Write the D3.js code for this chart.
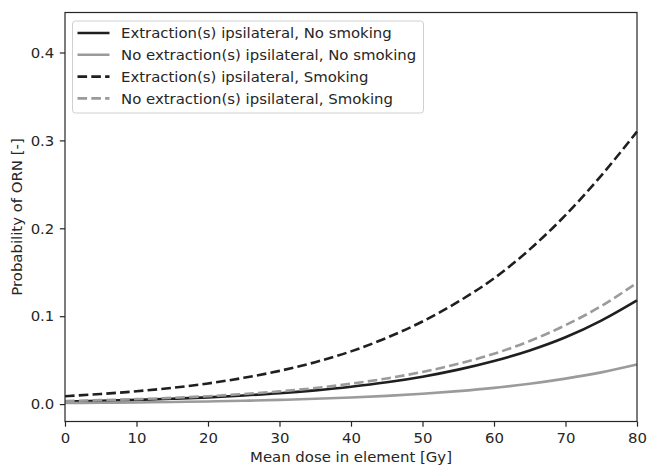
<!DOCTYPE html>
<html>
<head>
<meta charset="utf-8">
<script src="https://cdn.jsdelivr.net/npm/d3@7"></script>
<style>
  body { margin: 0; background: #fff; }
  svg { display: block; font-family: "DejaVu Sans", sans-serif; }
</style>
</head>
<body>
<svg></svg>
<script>
// dose grid (Gy)
const dose = [0, 5, 10, 15, 20, 25, 30, 35, 40, 45, 50, 55, 60, 65, 70, 75, 80];

// probabilities
const extrNoSmoke   = [0.0030, 0.0038, 0.0048, 0.0061, 0.0077, 0.0098, 0.0123, 0.0156, 0.0197, 0.0248, 0.0312, 0.0392, 0.0490, 0.0610, 0.0760, 0.0950, 0.118];
const noExtrNoSmoke = [0.0012, 0.0015, 0.0019, 0.0024, 0.0030, 0.0038, 0.0048, 0.0060, 0.0075, 0.0094, 0.0118, 0.0148, 0.0185, 0.0232, 0.0290, 0.0361, 0.045];
const extrSmoke     = [0.0090, 0.0115, 0.0146, 0.0185, 0.0235, 0.0299, 0.0378, 0.0477, 0.0600, 0.0754, 0.0940, 0.1165, 0.1430, 0.1760, 0.2150, 0.2600, 0.310];
const noExtrSmoke   = [0.0035, 0.0045, 0.0056, 0.0071, 0.0090, 0.0115, 0.0145, 0.0183, 0.0232, 0.0292, 0.0366, 0.0458, 0.0572, 0.0718, 0.0898, 0.1115, 0.138];

const seriesNames = [
    "Extraction(s) ipsilateral, No smoking",
    "No extraction(s) ipsilateral, No smoking",
    "Extraction(s) ipsilateral, Smoking",
    "No extraction(s) ipsilateral, Smoking"
];
const xTicks = [0, 10, 20, 30, 40, 50, 60, 70, 80];
const yTicks = [0.0, 0.1, 0.2, 0.3, 0.4];

const width = 648, height = 467;
const margin = { top: 12.5, right: 11, bottom: 45.5, left: 65 };
const fontSize = "14.9px";

const svg = d3.select("svg").attr("width", width).attr("height", height);

const x = d3.scaleLinear().domain([0, 80]).range([margin.left, width - margin.right]);
const y = d3.scaleLinear().domain([-0.0198, 0.4455]).range([height - margin.bottom, margin.top]);

const styles = [
    { color: "#1f1f1f", dash: null },
    { color: "#9b9b9b", dash: null },
    { color: "#1f1f1f", dash: "9.6,4.2" },
    { color: "#9b9b9b", dash: "9.6,4.2" }
];
const seriesVals = [extrNoSmoke, noExtrNoSmoke, extrSmoke, noExtrSmoke];

// líneas (mismo orden que la leyenda)
const line = d3.line().x(d => x(d[0])).y(d => y(d[1])).curve(d3.curveMonotoneX);
seriesVals.forEach((vals, i) => {
    svg.append("path")
        .datum(dose.map((d, k) => [d, vals[k]]))
        .attr("fill", "none")
        .attr("stroke", styles[i].color)
        .attr("stroke-width", 2.6)
        .attr("stroke-dasharray", styles[i].dash)
        .attr("d", line);
});

// ejes
const axisColor = "#262626";
const xAxis = svg.append("g")
    .attr("transform", `translate(0, ${height - margin.bottom})`)
    .call(d3.axisBottom(x).tickValues(xTicks).tickFormat(d3.format("d")).tickSize(5.2).tickPadding(5.5));
const yAxis = svg.append("g")
    .attr("transform", `translate(${margin.left}, 0)`)
    .call(d3.axisLeft(y).tickValues(yTicks).tickFormat(d3.format(".1f")).tickSize(5.2).tickPadding(5.5));
[xAxis, yAxis].forEach(g => {
    g.select(".domain").remove();
    g.selectAll("line").attr("stroke", axisColor).attr("stroke-width", 1.2);
    g.selectAll("text").attr("fill", axisColor).style("font-size", fontSize).style("font-family", "DejaVu Sans");
});

// marco
svg.append("rect")
    .attr("x", margin.left).attr("y", margin.top)
    .attr("width", width - margin.left - margin.right)
    .attr("height", height - margin.top - margin.bottom)
    .attr("fill", "none").attr("stroke", axisColor).attr("stroke-width", 1.2);

// etiquetas
svg.append("text")
    .attr("x", (margin.left + width - margin.right) / 2)
    .attr("y", height - 5)
    .attr("text-anchor", "middle")
    .attr("fill", axisColor)
    .style("font-size", fontSize)
    .text("Mean dose in element [Gy]");

svg.append("text")
    .attr("transform", `translate(22, ${(margin.top + height - margin.bottom) / 2}) rotate(-90)`)
    .attr("text-anchor", "middle")
    .attr("fill", axisColor)
    .style("font-size", fontSize)
    .text("Probability of ORN [-]");

// leyenda
const legend = svg.append("g").attr("transform", "translate(72.5, 21)");
legend.append("rect")
    .attr("width", 351).attr("height", 92)
    .attr("rx", 3).attr("ry", 3)
    .attr("fill", "#fff").attr("fill-opacity", 0.8)
    .attr("stroke", "#d0d0d0").attr("stroke-width", 1);
seriesNames.forEach((name, i) => {
    const row = legend.append("g").attr("transform", `translate(0, ${12 + i * 21.8})`);
    row.append("line")
        .attr("x1", 5).attr("x2", 37)
        .attr("stroke", styles[i].color)
        .attr("stroke-width", 2.6)
        .attr("stroke-dasharray", styles[i].dash);
    row.append("text")
        .attr("x", 48.5).attr("y", 5.3)
        .attr("fill", axisColor)
        .style("font-size", fontSize)
        .text(name);
});
</script>
</body>
</html>
